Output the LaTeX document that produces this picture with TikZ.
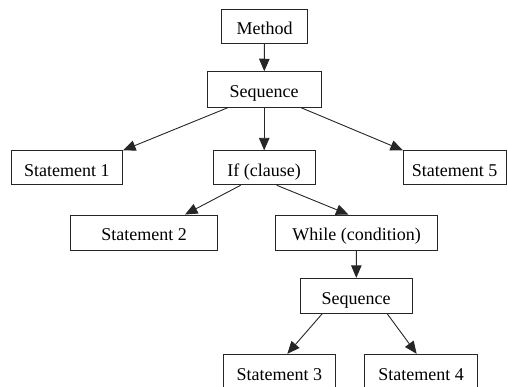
\documentclass[tikz,border=0pt]{standalone}
\usepackage{fontspec}
\setmainfont{Liberation Serif}
\usetikzlibrary{arrows.meta}
\begin{document}
\begin{tikzpicture}[x=1pt,y=-1pt,
  box/.style={draw=black!85,line width=0.9pt,rectangle,inner sep=0pt,minimum height=34pt,
    font=\fontsize{18}{21}\selectfont,text height=16.5pt,text depth=0pt},
  edge/.style={draw=black!85,line width=0.9pt,-{Triangle[length=12.5pt,width=10.5pt]}}]
\useasboundingbox (0,0) rectangle (508,387);
\node[box,minimum width=85.6pt] (method) at (264.5,26.3) {Method};
\node[box,minimum width=113.7pt,minimum height=35.6pt] (seq) at (264.2,89.5) {Sequence};
\node[box,minimum width=111.7pt] (s1) at (66.8,167.8) {Statement 1};
\node[box,minimum width=101.7pt] (if) at (264.2,167.8) {If (clause)};
\node[box,minimum width=102.7pt] (s5) at (454.7,167.8) {Statement 5};
\node[box,minimum width=147.4pt,minimum height=35pt] (s2) at (144,232.5) {Statement 2};
\node[box,minimum width=162.4pt,minimum height=35pt] (while) at (356.5,232.5) {While (condition)};
\node[box,minimum width=112.3pt,minimum height=35pt] (seqb) at (356.2,295.8) {Sequence};
\node[box,minimum width=112pt,minimum height=35pt] (s3) at (279.3,371.8) {Statement 3};
\node[box,minimum width=112.6pt,minimum height=35pt] (s4) at (421,371.8) {Statement 4};
\draw[edge] (method) -- (seq);
\draw[edge] ([xshift=-36.5pt]seq.south) -- (s1.north east);
\draw[edge] (seq) -- (if);
\draw[edge] ([xshift=37pt]seq.south) -- (s5.north west);
\draw[edge] ([xshift=-23.5pt]if.south) -- ([xshift=41pt]s2.north);
\draw[edge] ([xshift=12.5pt]if.south) -- ([xshift=-8pt]while.north);
\draw[edge] (while) -- (seqb);
\draw[edge] ([xshift=-34pt]seqb.south) -- ([xshift=8pt]s3.north);
\draw[edge] ([xshift=31pt]seqb.south) -- ([xshift=-4.3pt]s4.north);
\end{tikzpicture}
\end{document}
